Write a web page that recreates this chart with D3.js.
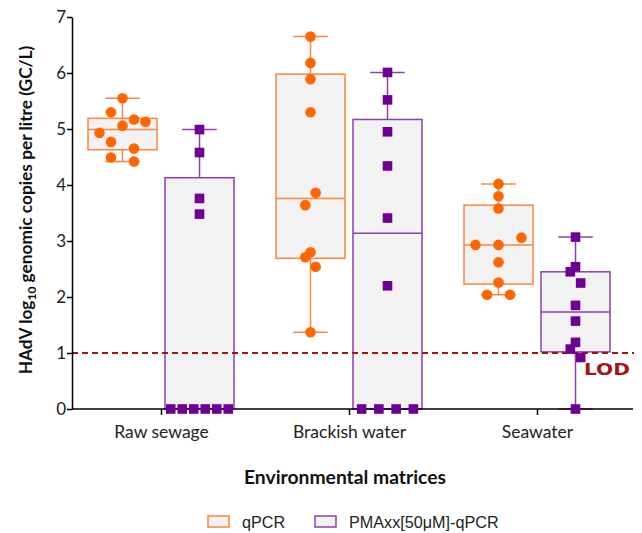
<!DOCTYPE html>
<html><head><meta charset="utf-8">
<script src="https://cdn.jsdelivr.net/npm/d3@7"></script>
<style>body{margin:0;background:#fff}svg{display:block}</style>
</head><body>
<svg id="c" width="642" height="533"></svg>
<script>
const categories = ["Raw sewage", "Brackish water", "Seawater"];
const methods = ["qPCR", "PMAxx[50μM]-qPCR"];
const yTicks = [0, 1, 2, 3, 4, 5, 6, 7];
const lodValue = 1;

// individual sample values (log10 GC/L)
const rawQpcr = [5.55, 5.30, 5.17, 5.13, 5.06, 4.93, 4.77, 4.65, 4.49, 4.42];
const rawPma = [4.99, 4.58, 3.76, 3.48, 0, 0, 0, 0, 0, 0];
const brackishQpcr = [6.65, 6.18, 5.89, 5.30, 3.86, 3.64, 2.80, 2.71, 2.54, 1.37];
const brackishPma = [6.01, 5.52, 4.95, 4.34, 3.41, 2.20, 0, 0, 0, 0];
const seaQpcr = [4.02, 3.80, 3.58, 3.06, 2.93, 2.93, 2.62, 2.26, 2.04, 2.04];
const seaPma = [3.07, 2.54, 2.45, 2.25, 1.85, 1.57, 1.19, 1.07, 0.92, 0];

// scatter column slot of each sample (as arranged in the original)
const rawQpcrSlot = [0, -2, 2, 4, 0, -4, -2, 2, -2, 2];
const rawPmaSlot = [0, 0, 0, 0, -5, -3, -1, 1, 3, 5];
const brackishQpcrSlot = [0, 0, 0, 0, 0.9, -0.9, 0, -0.9, 0.9, 0];
const brackishPmaSlot = [0, 0, 0, 0, 0, 0, -4.5, -1.5, 1.5, 4.5];
const seaQpcrSlot = [0, 0, 0, 4, -4, 0, 0, 0, -2, 2];
const seaPmaSlot = [0, 0, -0.9, 0.9, 0, 0, 0, -0.9, 0.9, 0];

// box statistics [min, q1, median, q3, max]
const rawQpcrBox = [4.42, 4.63, 4.99, 5.19, 5.55];
const rawPmaBox = [0, 0, 0, 4.13, 4.99];
const brackishQpcrBox = [1.37, 2.69, 3.76, 5.98, 6.65];
const brackishPmaBox = [0, 0, 3.14, 5.17, 6.01];
const seaQpcrBox = [2.04, 2.23, 2.93, 3.64, 4.02];
const seaPmaBox = [0, 1.02, 1.73, 2.45, 3.07];

const series = [
  {cat: categories[0], m: methods[0], vals: rawQpcr, slots: rawQpcrSlot, box: rawQpcrBox},
  {cat: categories[0], m: methods[1], vals: rawPma, slots: rawPmaSlot, box: rawPmaBox},
  {cat: categories[1], m: methods[0], vals: brackishQpcr, slots: brackishQpcrSlot, box: brackishQpcrBox},
  {cat: categories[1], m: methods[1], vals: brackishPma, slots: brackishPmaSlot, box: brackishPmaBox},
  {cat: categories[2], m: methods[0], vals: seaQpcr, slots: seaQpcrSlot, box: seaQpcrBox},
  {cat: categories[2], m: methods[1], vals: seaPma, slots: seaPmaSlot, box: seaPmaBox}
];

const boxStroke = {"qPCR": "#F5883E", "PMAxx[50μM]-qPCR": "#8E3FAE"};
const markFill = {"qPCR": "#FF6600", "PMAxx[50μM]-qPCR": "#6E0096"};

const svg = d3.select("#c");
const x = d3.scalePoint(categories, [67, 631]).padding(0.5);
const xm = d3.scaleBand(methods, [-77, 77]).paddingInner(0.104).paddingOuter(0.052);
const y = d3.scaleLinear([0, 7], [409, 17]);
const slotUnit = 5.75;

// boxes
const g = svg.append("g");
series.forEach(s => {
  const cx = x(s.cat) + xm(s.m) + xm.bandwidth() / 2;
  const x0 = x(s.cat) + xm(s.m);
  const w = xm.bandwidth();
  const col = boxStroke[s.m];
  const [mn, q1, md, q3, mx] = s.box;
  const sg = g.append("g");
  sg.append("line").attr("x1", cx).attr("x2", cx).attr("y1", y(q3)).attr("y2", y(mx)).attr("stroke", col).attr("stroke-width", 1.5);
  sg.append("line").attr("x1", cx).attr("x2", cx).attr("y1", y(q1)).attr("y2", y(mn)).attr("stroke", col).attr("stroke-width", 1.5);
  sg.append("line").attr("x1", cx - w / 4).attr("x2", cx + w / 4).attr("y1", y(mx)).attr("y2", y(mx)).attr("stroke", col).attr("stroke-width", 1.5);
  sg.append("line").attr("x1", cx - w / 4).attr("x2", cx + w / 4).attr("y1", y(mn)).attr("y2", y(mn)).attr("stroke", col).attr("stroke-width", 1.5);
  sg.append("rect").attr("x", x0).attr("y", y(q3)).attr("width", w).attr("height", y(q1) - y(q3))
    .attr("fill", "#F2F2F2").attr("stroke", col).attr("stroke-width", 1.5);
  sg.append("line").attr("x1", x0).attr("x2", x0 + w).attr("y1", y(md)).attr("y2", y(md)).attr("stroke", col).attr("stroke-width", 1.5);
});

// LOD line
svg.append("line").attr("x1", 72).attr("x2", 634).attr("y1", y(lodValue)).attr("y2", y(lodValue))
  .attr("stroke", "#A31515").attr("stroke-width", 2).attr("stroke-dasharray", "6,4");
svg.append("text").attr("transform", `translate(584,${y(lodValue) + 22}) scale(1.22,1)`).attr("text-anchor", "start")
  .attr("font-family", "DejaVu Sans, sans-serif").attr("font-weight", "bold").attr("font-size", 16.5)
  .attr("fill", "#A31515").text("LOD");

// axes
const yAxis = svg.append("g").attr("transform", "translate(72,0)")
  .call(d3.axisLeft(y).tickValues(yTicks).tickFormat(d3.format("d")).tickSize(5).tickSizeOuter(0));
yAxis.select(".domain").attr("stroke", "#000").attr("stroke-width", 1.5);
yAxis.selectAll(".tick line").attr("stroke-width", 1.5);
yAxis.selectAll("text").attr("font-family", "Lato, sans-serif").attr("font-size", 17).attr("fill", "#222").attr("x", -6);

const xAxis = svg.append("g").attr("transform", "translate(0,409)")
  .call(d3.axisBottom(x).tickSize(6).tickSizeOuter(0));
xAxis.select(".domain").attr("d", "M72,0H633").attr("stroke", "#000").attr("stroke-width", 1.5);
xAxis.selectAll(".tick line").attr("stroke-width", 1.5);
xAxis.selectAll("text").attr("font-family", "Lato, sans-serif").attr("font-size", 17.5).attr("fill", "#222").attr("dy", "1.12em");

// points
series.forEach(s => {
  const cx = x(s.cat) + xm(s.m) + xm.bandwidth() / 2;
  const pts = s.vals.map((v, i) => ({v, px: cx + s.slots[i] * slotUnit}));
  if (s.m === methods[0]) {
    svg.append("g").selectAll("circle").data(pts).join("circle")
      .attr("cx", d => d.px).attr("cy", d => y(d.v)).attr("r", 5.3).attr("fill", markFill[s.m]);
  } else {
    svg.append("g").selectAll("rect").data(pts).join("rect")
      .attr("x", d => d.px - 4.8).attr("y", d => y(d.v) - 4.8).attr("width", 9.6).attr("height", 9.6).attr("fill", markFill[s.m]);
  }
});

// y label
const yl = svg.append("text").attr("transform", "translate(32,210) rotate(-90)").attr("text-anchor", "middle")
  .attr("font-family", "Lato, sans-serif").attr("font-weight", "bold").attr("font-size", 17.3).attr("fill", "#111");
yl.append("tspan").text("HAdV log");
yl.append("tspan").attr("font-size", 12).attr("dy", 4).text("10");
yl.append("tspan").attr("dy", -4).text(" genomic copies per litre (GC/L)");

// x label
svg.append("text").attr("x", 345).attr("y", 484).attr("text-anchor", "middle")
  .attr("font-family", "Lato, sans-serif").attr("font-weight", "bold").attr("font-size", 19.3).attr("fill", "#111")
  .text("Environmental matrices");

// legend
const leg = svg.append("g");
const legX = [208, 315];
methods.forEach((m, i) => {
  leg.append("rect").attr("x", legX[i]).attr("y", 516).attr("width", 21).attr("height", 11)
    .attr("fill", "#F2F2F2").attr("stroke", boxStroke[m]).attr("stroke-width", 1.5);
  leg.append("text").attr("x", legX[i] + 34).attr("y", 528).attr("font-family", "Liberation Sans, Arial, sans-serif")
    .attr("font-size", 16.2).attr("fill", "#222").text(m);
});
</script>
</body></html>
